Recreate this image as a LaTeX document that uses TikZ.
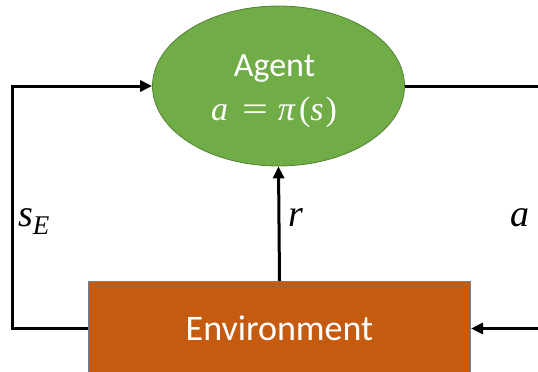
\documentclass[tikz,border=0pt]{standalone}
\usepackage{fontspec}
\setmainfont{Carlito}
\newfontfamily\libserif{Liberation Serif}
\newcommand{\mvar}[1]{{\libserif\itshape #1}}
\newcommand{\mup}[1]{{\libserif\upshape #1}}
\usetikzlibrary{arrows.meta,shapes.geometric}
\definecolor{agentgreen}{RGB}{112,173,71}
\definecolor{agentedge}{RGB}{84,130,53}
\definecolor{envorange}{RGB}{197,90,17}
\definecolor{envedge}{RGB}{112,128,150}
\begin{document}
\begin{tikzpicture}[x=1pt,y=-1pt,
  arr/.style={line width=3pt,-{Triangle[length=12pt,width=11pt]}},
  lbl/.style={font=\fontsize{38}{44}\selectfont, inner sep=0pt, anchor=base west}]
\useasboundingbox (0,0) rectangle (538,372);
\begin{scope}
\clip (0,0) rectangle (538,372);
\node[rectangle, fill=envorange, draw=envedge, line width=1pt, minimum width=382pt, minimum height=94pt, anchor=north west, text=white, font=\fontsize{36}{43}\selectfont] (env) at (88,281) {Environment};
\end{scope}
\node[ellipse, fill=agentgreen, draw=agentedge, line width=0.8pt, minimum width=252pt, minimum height=160pt, inner sep=0pt] (agent) at (278.5,86) {};
\node[text=white, font=\fontsize{34}{40}\selectfont, anchor=base, inner sep=0pt] (agentname) at (274.5,76) {Agent};
\node[text=white, font=\fontsize{34}{40}\selectfont, anchor=base, inner sep=0pt] (policy) at (274,120) {\mvar{a}\hspace{14pt}\scalebox{1.35}[1]{\mup{=}}\hspace{10pt}\mvar{π}\hspace{4pt}\mup{(}\mvar{s}\hspace{2pt}\mup{)}};
\coordinate (lx) at (12,0);
\coordinate (rx) at (545,0);
\draw[arr] (env.west) -- (env.west -| lx) |- (agent.west);
\draw[arr] (agent.east) -- (agent.east -| rx) |- (env.east);
\draw[arr] (env.north) -- (agent.south);
\node[lbl] (sE) at (18,226) {\mvar{s}\raisebox{-8pt}{\fontsize{27}{30}\selectfont\mvar{E}}};
\node[lbl] (r) at (288,226) {\mvar{r}};
\node[lbl] (a) at (510,226) {\mvar{a}};
\end{tikzpicture}
\end{document}
